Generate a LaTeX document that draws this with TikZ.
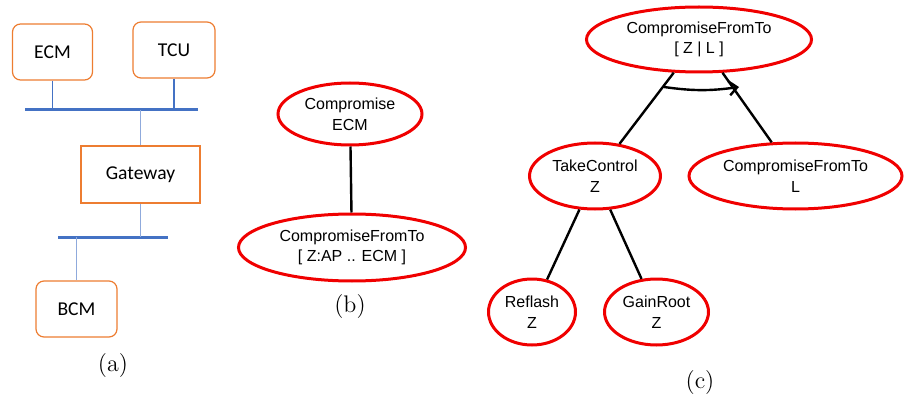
\documentclass[tikz,border=0pt]{standalone}
\usepackage{fontspec}
\usepackage{xcolor}
\usetikzlibrary{shapes.geometric,arrows.meta}
\newfontfamily\boxfont{Carlito}
\newfontfamily\treefont{Liberation Sans}
\definecolor{ecuorange}{HTML}{ED7D31}
\definecolor{busblue}{HTML}{4472C4}
\definecolor{linkblue}{HTML}{8FAADC}
\definecolor{attackred}{HTML}{F00000}

\begin{document}
\begin{tikzpicture}[x=0.5pt,y=-0.5pt,
    ecu/.style={draw=ecuorange, line width=0.6pt, rounded corners=4pt, font=\boxfont\fontsize{9.8}{11}\selectfont, inner sep=0pt},
    goal/.style={ellipse, draw=attackred, line width=1.5pt, align=center, inner sep=0pt, font=\treefont\fontsize{8}{10.3}\selectfont},
    branch/.style={draw=black, line width=1.2pt},
    caption/.style={font=\fontsize{12}{14}\selectfont},
    ]
    \useasboundingbox (0,0) rectangle (905,401);

    % (a) network
    \node [ecu, minimum width=40pt, minimum height=28pt](ecm) at (52.5,52){ECM};
    \node [ecu, minimum width=41pt, minimum height=28pt](tcu) at (174,50){TCU};
    \node [ecu, rounded corners=0pt, minimum width=59.5pt, minimum height=28.5pt](gw) at (140.5,174.5){Gateway};
    \node [ecu, minimum width=40.5pt, minimum height=28pt](bcm) at (76.5,309){BCM};

    \coordinate (bus1l) at (25,110);
    \coordinate (bus1r) at (198,110);
    \coordinate (bus2l) at (58,237);
    \coordinate (bus2r) at (168,237);

    \draw [busblue, line width=1.5pt] (bus1l) -- (bus1r);
    \draw [busblue, line width=1.5pt] (bus2l) -- (bus2r);
    \draw [busblue, line width=0.6pt] (ecm.south) -- (ecm.south |- bus1l);
    \draw [busblue, line width=0.6pt] (tcu.south) -- (tcu.south |- bus1l);
    \draw [linkblue, line width=0.8pt] (gw.north) -- (gw.north |- bus1l);
    \draw [linkblue, line width=0.8pt] (gw.south) -- (gw.south |- bus2l);
    \draw [linkblue, line width=0.8pt] (bcm.north) -- (bcm.north |- bus2l);

    \node [caption](capa) at (113,366){(a)};

    % (b) single goal
    \node [goal, minimum width=72pt, minimum height=31pt](cecm) at (350,114){Compromise\\ECM};
    \node [goal, minimum width=113.5pt, minimum height=33.5pt](cft) at (352,247.5){CompromiseFromTo\\{[} Z:AP .. ECM ]};
    \path [branch] (cecm) edge (cft);

    \node [caption](capb) at (350,307){(b)};

    % (c) sequence
    \node [goal, minimum width=112.5pt, minimum height=32.5pt](top) at (699,39.5){CompromiseFromTo\\{[} Z | L ]};
    \node [goal, minimum width=65.5pt, minimum height=33pt](take) at (595,176){TakeControl\\Z};
    \node [goal, minimum width=106.5pt, minimum height=33pt](cftl) at (795.5,176){CompromiseFromTo\\L};
    \node [goal, minimum width=43.5pt, minimum height=33pt](refl) at (532,312){Reflash\\Z};
    \node [goal, minimum width=52pt, minimum height=33pt](root) at (656.5,312){GainRoot\\Z};

    \path [branch]
        (top) edge (take)
        (top) edge (cftl)
        (take) edge (refl)
        (take) edge (root)
    ;

    \coordinate (seqL) at (664,87);
    \coordinate (seqR) at (739,87);
    \draw [line width=1.2pt, -{Straight Barb[length=4pt,width=7pt]}] (seqL) to[bend right=8] (seqR);

    \node [caption](capc) at (700,383){(c)};
\end{tikzpicture}
\end{document}
